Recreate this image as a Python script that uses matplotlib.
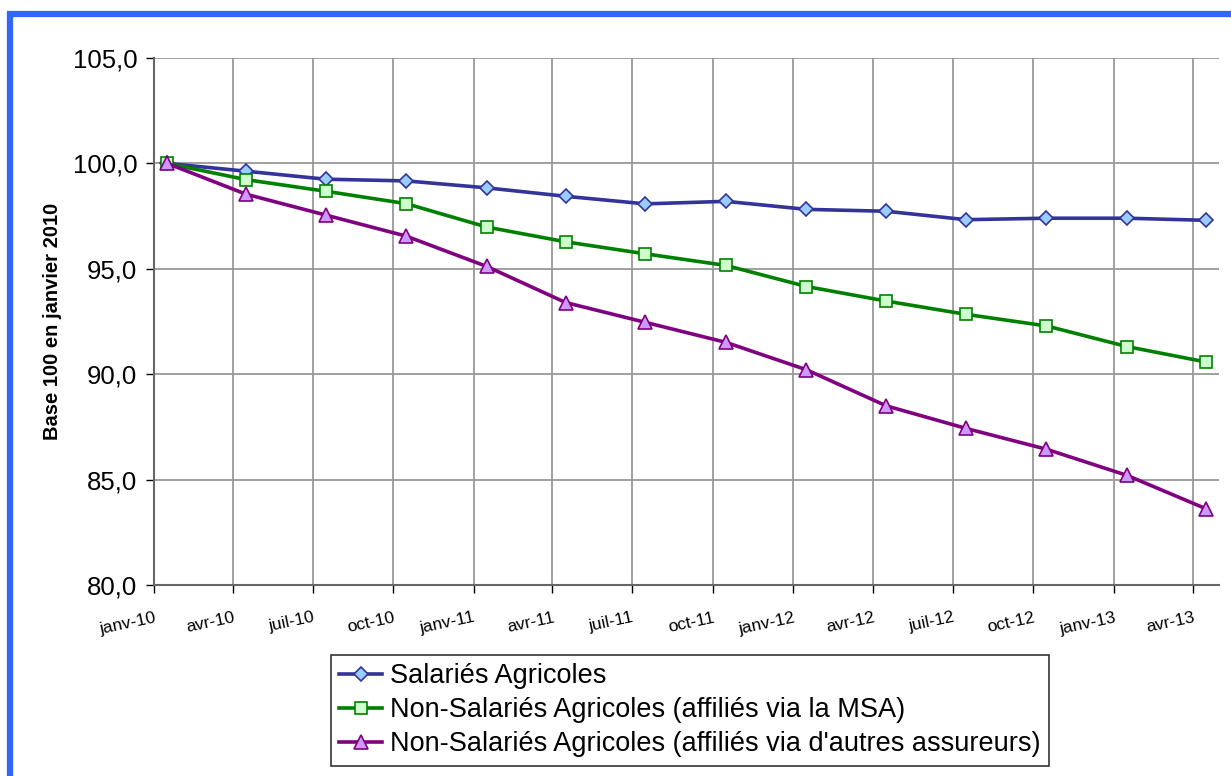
import numpy as np
import pandas as pd
import matplotlib
matplotlib.use("Agg")
import matplotlib.pyplot as plt
from matplotlib.patches import Rectangle

plt.rcParams['font.family'] = ['Liberation Sans', 'DejaVu Sans']

# data: one point per quarter, placed mid-month
dates = pd.to_datetime(["2010-01-16", "2010-04-16", "2010-07-16", "2010-10-16",
                        "2011-01-16", "2011-04-16", "2011-07-16", "2011-10-16",
                        "2012-01-16", "2012-04-16", "2012-07-16", "2012-10-16",
                        "2013-01-16", "2013-04-16"])
salaries = [100, 99.63, 99.25, 99.17, 98.84, 98.44, 98.08, 98.2, 97.82, 97.73,
            97.33, 97.4, 97.4, 97.3]
non_sal_msa = [100, 99.23, 98.68, 98.09, 96.98, 96.28, 95.71, 95.16, 94.16, 93.47,
               92.84, 92.29, 91.31, 90.58]
non_sal_autres = [100, 98.54, 97.55, 96.55, 95.11, 93.4, 92.46, 91.51, 90.21, 88.5,
                  87.43, 86.44, 85.2, 83.62]

tick_dates = pd.date_range("2010-01-01", "2013-04-01", freq="QS")
tick_labels = ["janv-10", "avr-10", "juil-10", "oct-10", "janv-11", "avr-11", "juil-11",
               "oct-11", "janv-12", "avr-12", "juil-12", "oct-12", "janv-13", "avr-13"]
labels = ["Salariés Agricoles",
          "Non-Salariés Agricoles (affiliés via la MSA)",
          "Non-Salariés Agricoles (affiliés via d'autres assureurs)"]

fig = plt.figure(figsize=(12.31, 7.76), dpi=100)
ax = fig.add_axes([154 / 1231, 1 - 585 / 776, (1219 - 154) / 1231, (585 - 58) / 776])

ax.plot(dates, salaries, color="#333399", lw=2.6, marker="D", ms=7,
        mfc="#99CCFF", mec="#333399", mew=1.2, label=labels[0], zorder=3)
ax.plot(dates, non_sal_msa, color="#008000", lw=2.6, marker="s", ms=9,
        mfc="#CCFFCC", mec="#008000", mew=1.2, label=labels[1], zorder=3)
ax.plot(dates, non_sal_autres, color="#800080", lw=2.6, marker="^", ms=10,
        mfc="#CC99FF", mec="#800080", mew=1.2, label=labels[2], zorder=3)

ax.set_xlim(pd.Timestamp("2010-01-01"), pd.Timestamp("2013-05-01"))
ax.set_ylim(80, 105)
ax.set_yticks(np.arange(80, 105.1, 5))
ax.set_yticklabels([f"{v:.1f}".replace(".", ",") for v in np.arange(80, 105.1, 5)],
                   fontsize=18.5)
ax.set_xticks(tick_dates)
ax.set_xticklabels(tick_labels, fontsize=12.5, rotation=12, ha="right",
                   rotation_mode="anchor")
ax.tick_params(axis="x", length=6, width=1, color="#000000", pad=12)
ax.tick_params(axis="y", length=6, width=1, color="#000000", pad=6)

ax.grid(True, color="#999999", lw=1.3)
for s in ["top", "right"]:
    ax.spines[s].set_visible(False)
for s in ["left", "bottom"]:
    ax.spines[s].set_color("#666666")
    ax.spines[s].set_linewidth(1.5)

ax.set_ylabel("Base 100 en janvier 2010", fontsize=14.5, fontweight="bold", labelpad=8)

leg = fig.legend(loc="upper center", bbox_to_anchor=(690 / 1231, 1 - 655 / 776),
                 fontsize=19.5, frameon=True, fancybox=False, handlelength=1.6,
                 handletextpad=0.3, borderpad=0.3, labelspacing=0.3, borderaxespad=0)
leg.get_frame().set_edgecolor("#000000")
leg.get_frame().set_linewidth(1.2)

# blue outer frame
fig.add_artist(Rectangle((10 / 1231, -0.1), 1.2, 1 - 13.5 / 776 + 0.1,
                         transform=fig.transFigure, fill=False,
                         edgecolor="#3366FF", lw=4.5, clip_on=False))

fig.savefig("out.png", dpi=100)
